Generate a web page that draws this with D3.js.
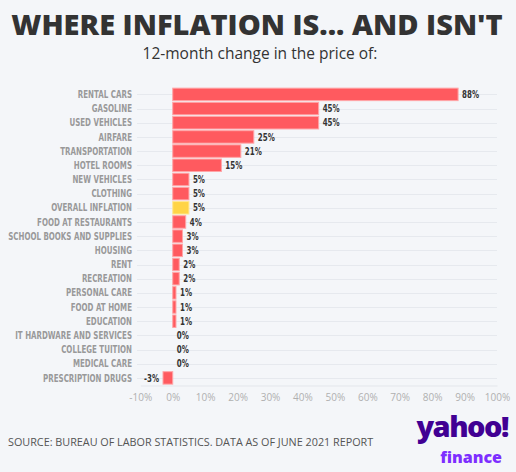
<!DOCTYPE html>
<html>
<head>
<meta charset="utf-8">
<script src="https://cdn.jsdelivr.net/npm/d3@7"></script>
<style>
  html, body { margin: 0; padding: 0; background: #f4f6f9; }
  svg { display: block; }
</style>
</head>
<body>
<div id="chart"></div>
<script>
"use strict";

var categories = [
  "RENTAL CARS", "GASOLINE", "USED VEHICLES", "AIRFARE", "TRANSPORTATION",
  "HOTEL ROOMS", "NEW VEHICLES", "CLOTHING", "OVERALL INFLATION",
  "FOOD AT RESTAURANTS", "SCHOOL BOOKS AND SUPPLIES", "HOUSING", "RENT",
  "RECREATION", "PERSONAL CARE", "FOOD AT HOME", "EDUCATION",
  "IT HARDWARE AND SERVICES", "COLLEGE TUITION", "MEDICAL CARE",
  "PRESCRIPTION DRUGS"
];
var values = [88, 45, 45, 25, 21, 15, 5, 5, 5, 4, 3, 3, 2, 2, 1, 1, 1, 0, 0, 0, -3];
var xTicks = [-10, 0, 10, 20, 30, 40, 50, 60, 70, 80, 90, 100];

var W = 516, H = 472;
var condensed = "'DejaVu Sans', 'Liberation Sans', sans-serif";

var svg = d3.select("#chart")
  .append("svg")
  .attr("width", W)
  .attr("height", H);

svg.append("rect")
   .attr("width", W)
   .attr("height", H)
   .attr("fill", "#f4f6f9");

// titles
svg.append("text")
   .attr("x", 257)
   .attr("y", 35)
   .attr("text-anchor", "middle")
   .style("font-family", "'Open Sans', 'Noto Sans', sans-serif")
   .style("font-weight", "800")
   .style("font-size", "29px")
   .attr("fill", "#333333")
   .text("WHERE INFLATION IS... AND ISN'T");

svg.append("text")
   .attr("x", 260)
   .attr("y", 59)
   .attr("text-anchor", "middle")
   .style("font-family", "'Open Sans', 'Noto Sans', sans-serif")
   .style("font-size", "15.5px")
   .attr("fill", "#333333")
   .text("12-month change in the price of:");

var x = d3.scaleLinear()
          .domain([-10, 100])
          .range([140.3, 497]);

var y = d3.scaleBand()
          .domain(categories)
          .range([87.3, 385])
          .paddingInner(0.12)
          .paddingOuter(0.06);

// row grid lines
svg.append("g")
   .selectAll("line")
   .data(categories)
   .enter()
   .append("line")
   .attr("x1", 137)
   .attr("x2", 497)
   .attr("y1", function (d) { return Math.round(y(d) + y.bandwidth() / 2) + 0.5; })
   .attr("y2", function (d) { return Math.round(y(d) + y.bandwidth() / 2) + 0.5; })
   .attr("stroke", "#e6e9ee")
   .attr("stroke-width", 1);

// bottom axis
var xAxis = d3.axisBottom(x)
              .tickValues(xTicks)
              .tickSize(0)
              .tickPadding(8)
              .tickFormat(function (d) { return d + "%"; });

var gx = svg.append("g")
   .attr("transform", "translate(0,385.5)")
   .call(xAxis);

gx.select(".domain").attr("stroke", "#e3e6eb");
gx.selectAll("text")
  .attr("fill", "#b0b0b0")
  .style("font-family", "'Open Sans', 'Noto Sans', sans-serif")
  .style("font-size", "10px");

// category labels (squeezed to mimic a condensed face)
var labels = svg.append("g")
   .selectAll("text")
   .data(categories)
   .enter()
   .append("text")
   .attr("text-anchor", "end")
   .attr("dy", "0.36em")
   .style("font-family", condensed)
   .style("font-weight", "bold")
   .style("font-size", "10px")
   .attr("fill", "#999999")
   .text(function (d) { return d; });

var longest = 0;
labels.each(function (d) {
  if (d == "SCHOOL BOOKS AND SUPPLIES") longest = this.getComputedTextLength();
});
var squeeze = longest > 0 ? 124 / longest : 0.75;

labels.attr("transform", function (d) {
  return "translate(132," + (y(d) + y.bandwidth() / 2) + ") scale(" + squeeze + ",1)";
});

// bars
svg.append("g")
   .selectAll("rect")
   .data(values)
   .enter()
   .append("rect")
   .attr("x", function (d) { return x(Math.min(0, d)); })
   .attr("y", function (d, i) { return y(categories[i]); })
   .attr("width", function (d) { return Math.abs(x(d) - x(0)); })
   .attr("height", y.bandwidth())
   .attr("fill", function (d, i) {
     return categories[i] == "OVERALL INFLATION" ? "#ffd446" : "#ff5a5f";
   })
   .attr("stroke", function (d, i) {
     return categories[i] == "OVERALL INFLATION" ? "#ffe792" : "#ffa5a7";
   })
   .attr("stroke-width", function (d) { return d == 0 ? 0 : 1; });

// value labels
svg.append("g")
   .selectAll("text")
   .data(values)
   .enter()
   .append("text")
   .attr("transform", function (d, i) {
     var px = d < 0 ? x(d) - 4 : x(d) + 4;
     return "translate(" + px + "," + (y(categories[i]) + y.bandwidth() / 2) + ") scale(" + squeeze + ",1)";
   })
   .attr("dy", "0.36em")
   .attr("text-anchor", function (d) { return d < 0 ? "end" : "start"; })
   .style("font-family", condensed)
   .style("font-weight", "bold")
   .style("font-size", "10px")
   .attr("fill", "#333333")
   .text(function (d) { return d + "%"; });

// source
svg.append("text")
   .attr("x", 8)
   .attr("y", 446)
   .style("font-family", "'Open Sans', 'Noto Sans', sans-serif")
   .style("font-size", "10.8px")
   .attr("fill", "#555555")
   .text("SOURCE: BUREAU OF LABOR STATISTICS. DATA AS OF JUNE 2021 REPORT");

// logo
svg.append("text")
   .attr("x", 508)
   .attr("y", 437)
   .attr("text-anchor", "end")
   .style("font-family", "'Open Sans', 'Noto Sans', sans-serif")
   .style("font-weight", "800")
   .style("font-size", "29px")
   .style("letter-spacing", "-1.5px")
   .attr("fill", "#410093")
   .text("yahoo!");

svg.append("text")
   .attr("x", 502)
   .attr("y", 463)
   .attr("text-anchor", "end")
   .style("font-family", "'Open Sans', 'Noto Sans', sans-serif")
   .style("font-weight", "800")
   .style("font-size", "16px")
   .attr("fill", "#7d2eff")
   .text("finance");
</script>
</body>
</html>
